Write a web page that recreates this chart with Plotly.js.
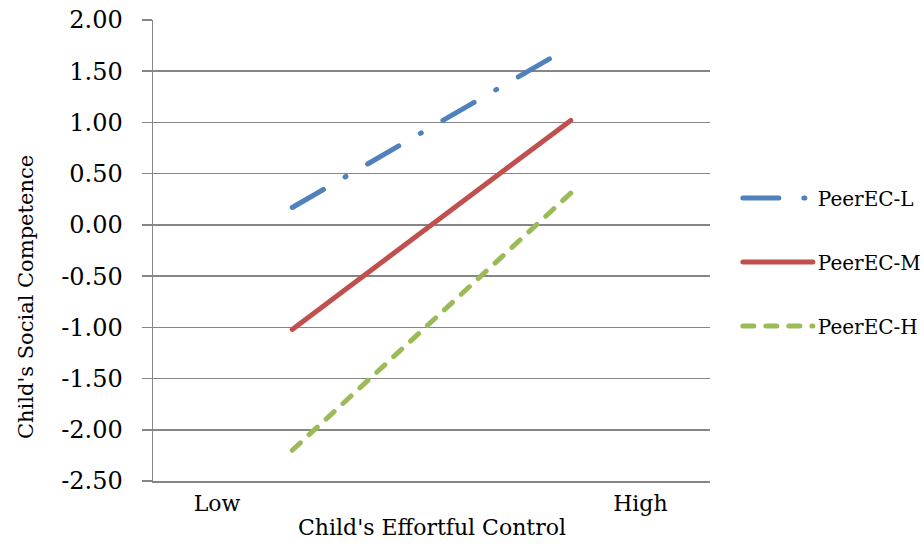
<!DOCTYPE html>
<html>
<head>
<meta charset="utf-8">
<script src="https://cdn.plot.ly/plotly-3.0.1.min.js"></script>
<style>
  html, body { margin: 0; padding: 0; background: #ffffff; }
  #chart { width: 924px; height: 547px; }
  /* rounded ends on the series strokes and their legend samples */
  .scatterlayer .js-line, .legendlines .js-line { stroke-linecap: round; }
</style>
</head>
<body>
<div id="chart"></div>
<script>
// Child's effortful control levels (x categories)
const effortLevels = ['Low', 'High'];

// Simple slopes of child's social competence for each peer effortful-control level
const seriesNames = ['PeerEC-L', 'PeerEC-M', 'PeerEC-H'];
const peerLow  = [0.17, 1.74];
const peerMid  = [-1.02, 1.02];
const peerHigh = [-2.20, 0.31];

// Y-axis ticks
const yTickValues = [2.0, 1.5, 1.0, 0.5, 0.0, -0.5, -1.0, -1.5, -2.0, -2.5];
const yTickLabels = ['2.00', '1.50', '1.00', '0.50', '0.00', '-0.50', '-1.00', '-1.50', '-2.00', '-2.50'];

const FONT = 'DejaVu Serif, serif';
const GRID = '#868686';

const xIndex = effortLevels.map((_, i) => i);

const traces = [
  {
    x: xIndex, y: peerLow, name: seriesNames[0], legendgroup: 'low',
    type: 'scatter', mode: 'lines', hoverinfo: 'skip',
    line: { color: '#4F81BD', width: 5, dash: '36px,25px,1px,25px' }
  },
  {
    x: xIndex, y: peerMid, name: seriesNames[1], legendgroup: 'mid',
    type: 'scatter', mode: 'lines', hoverinfo: 'skip',
    line: { color: '#C0504D', width: 5 }
  },
  {
    x: xIndex, y: peerHigh, name: seriesNames[2], legendgroup: 'high',
    type: 'scatter', mode: 'lines', hoverinfo: 'skip',
    line: { color: '#9BBB59', width: 5, dash: '11px,12px' }
  }
];

const layout = {
  width: 924,
  height: 547,
  margin: { l: 153, r: 214, t: 20, b: 66, autoexpand: false },
  paper_bgcolor: '#ffffff',
  plot_bgcolor: '#ffffff',
  font: { family: FONT, color: '#000000' },
  showlegend: true,
  xaxis: {
    range: [-0.5, 1.5],
    tickmode: 'array',
    tickvals: [-0.27, 1.25],
    ticktext: effortLevels,
    ticks: '',
    showgrid: false,
    zeroline: false,
    showline: true,
    linecolor: GRID,
    linewidth: 1.5,
    ticklabelstandoff: 2,
    tickfont: { family: FONT, size: 22, color: '#000000' },
    fixedrange: true
  },
  yaxis: {
    range: [-2.5, 2.0],
    tickmode: 'array',
    tickvals: yTickValues,
    ticktext: yTickLabels,
    ticks: 'outside',
    ticklen: 10,
    tickwidth: 1.5,
    tickcolor: GRID,
    showgrid: true,
    gridcolor: GRID,
    gridwidth: 1.5,
    zeroline: false,
    showline: true,
    linecolor: GRID,
    linewidth: 1.5,
    ticklabelstandoff: 14,
    tickfont: { family: FONT, size: 24, color: '#000000' },
    fixedrange: true
  },
  legend: {
    x: 1.05, xanchor: 'left',
    y: 0.475, yanchor: 'middle',
    itemwidth: 70,
    tracegroupgap: 35,
    bgcolor: 'rgba(0,0,0,0)',
    font: { family: FONT, size: 20, color: '#000000' }
  },
  annotations: [
    {
      text: "Child's Social Competence",
      xref: 'paper', yref: 'paper',
      x: -0.228, y: 0.399, xanchor: 'center', yanchor: 'middle',
      textangle: -90, showarrow: false,
      font: { family: FONT, size: 21, color: '#000000' }
    },
    {
      text: "Child's Effortful Control",
      xref: 'paper', yref: 'paper',
      x: 0.5, y: -0.0998, xanchor: 'center', yanchor: 'middle',
      showarrow: false,
      font: { family: FONT, size: 22, color: '#000000' }
    }
  ]
};

Plotly.newPlot('chart', traces, layout, { displayModeBar: false, staticPlot: true });
</script>
</body>
</html>
